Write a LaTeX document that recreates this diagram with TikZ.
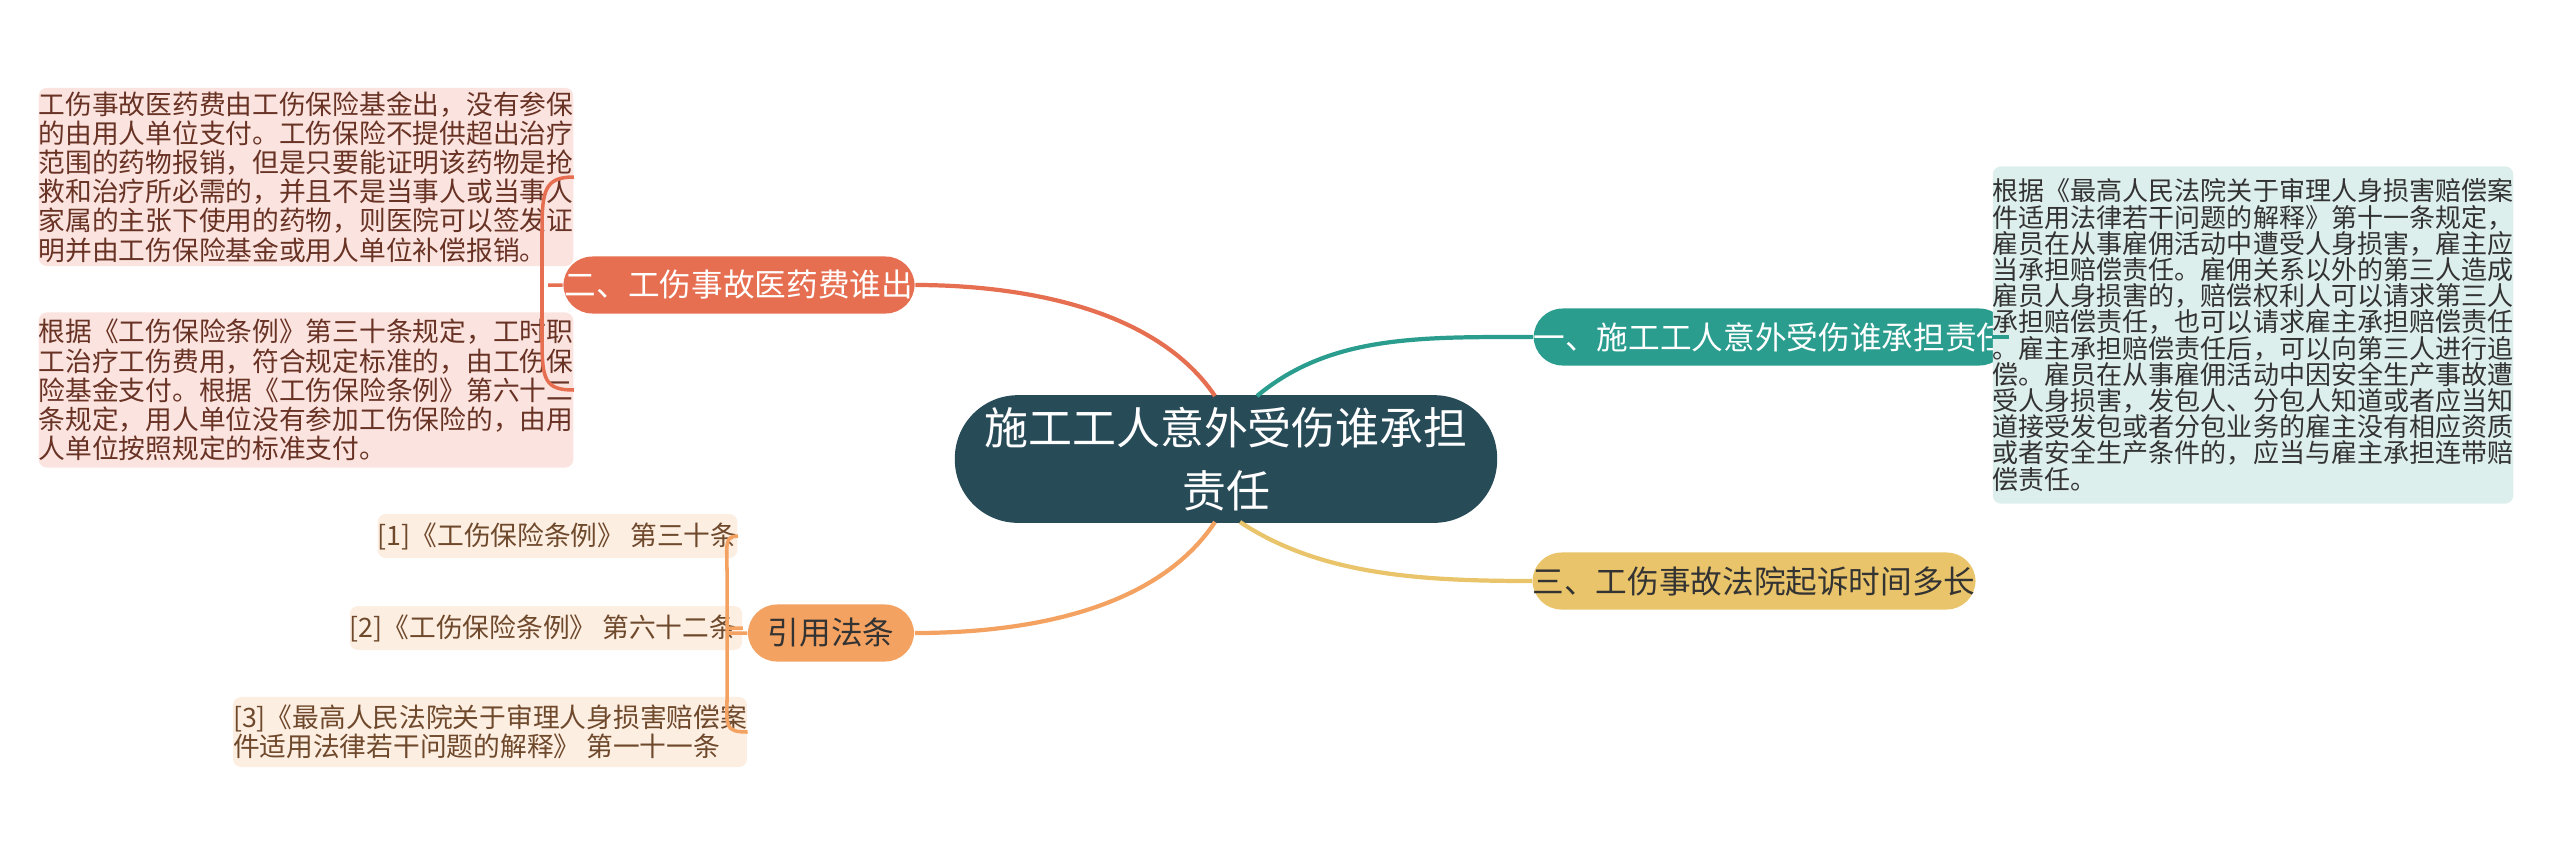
\documentclass[tikz,border=0pt]{standalone}
\usepackage{fontspec}
\setmainfont{Noto Sans CJK SC}
\definecolor{rootcol}{HTML}{284B58}
\definecolor{tealcol}{HTML}{2A9D8F}
\definecolor{yellowcol}{HTML}{E9C46A}
\definecolor{redcol}{HTML}{E76F51}
\definecolor{orangecol}{HTML}{F4A261}
\definecolor{redbox}{HTML}{FBE4DF}
\definecolor{tealbox}{HTML}{DDEFED}
\definecolor{orangebox}{HTML}{FDEEE2}
\tikzset{
  branch/.style = {
    rounded corners = 0.29cm,
    minimum height = 0.57cm,
    inner sep = 0,
    font = \fontsize{9pt}{10pt}\selectfont,
  },
  leaf/.style = {
    rounded corners = 0.08cm,
    inner sep = 0,
    align = left,
  },
}
\begin{document}
\begin{tikzpicture}[x=0.01cm, y=-0.01cm]
  \useasboundingbox (0,0) rectangle (2560,857);

  \node[
    fill = rootcol,
    rounded corners = 0.63cm,
    minimum width = 5.42cm,
    minimum height = 1.27cm,
    align = center,
    text = white,
    font = \fontsize{12.5pt}{18pt}\selectfont,
  ] (root) at (1226,459) {施工工人意外受伤谁承担\\责任};

  \node[branch, fill = tealcol, text = white, minimum width = 4.67cm]
    (harm) at (1771,337) {一、施工工人意外受伤谁承担责任};
  \node[branch, fill = yellowcol, text = black!80, minimum width = 4.33cm]
    (time) at (1754,581) {三、工伤事故法院起诉时间多长};
  \node[branch, fill = redcol, text = white, minimum width = 3.51cm]
    (cost) at (739,285) {二、工伤事故医药费谁出};
  \node[branch, fill = orangecol, text = black!80, minimum width = 1.66cm]
    (law) at (831,633) {引用法条};

  % connectors from the root
  \draw[tealcol, line width = 1.2pt] (1257,396) .. controls (1330,335) and (1420,337) .. (harm.west);
  \draw[yellowcol, line width = 1.2pt] (1240,522) .. controls (1320,575) and (1420,581) .. (time.west);
  \draw[redcol, line width = 1.2pt] (1215,396) .. controls (1150,300) and (1000,285) .. (cost.east);
  \draw[orangecol, line width = 1.2pt] (1215,522) .. controls (1150,620) and (1000,633) .. (law.east);

  % right leaf
  \node[
    leaf,
    fill = tealbox,
    text = black!80,
    minimum width = 4.33cm,
    minimum height = 3.37cm,
    font = \fontsize{7.4pt}{7.45pt}\selectfont,
  ] (harmtext) at (2253,335) {根据《最高人民法院关于审理人身损害赔偿案\\件适用法律若干问题的解释》第十一条规定，\\雇员在从事雇佣活动中遭受人身损害，雇主应\\当承担赔偿责任。雇佣关系以外的第三人造成\\雇员人身损害的，赔偿权利人可以请求第三人\\承担赔偿责任，也可以请求雇主承担赔偿责任\\。雇主承担赔偿责任后，可以向第三人进行追\\偿。雇员在从事雇佣活动中因安全生产事故遭\\受人身损害，发包人、分包人知道或者应当知\\道接受发包或者分包业务的雇主没有相应资质\\或者安全生产条件的，应当与雇主承担连带赔\\偿责任。};
  \draw[tealcol, line width = 1.2pt] (harm.east) -- (harmtext.west |- harm.east);

  % left leaves
  \node[
    leaf,
    fill = redbox,
    text = redcol!45!black,
    minimum width = 4.33cm,
    minimum height = 1.78cm,
    font = \fontsize{7.6pt}{8.3pt}\selectfont,
  ] (costa) at (306,177) {工伤事故医药费由工伤保险基金出，没有参保\\的由用人单位支付。工伤保险不提供超出治疗\\范围的药物报销，但是只要能证明该药物是抢\\救和治疗所必需的，并且不是当事人或当事人\\家属的主张下使用的药物，则医院可以签发证\\明并由工伤保险基金或用人单位补偿报销。};
  \node[
    leaf,
    fill = redbox,
    text = redcol!45!black,
    minimum width = 4.33cm,
    minimum height = 1.55cm,
    font = \fontsize{7.6pt}{8.3pt}\selectfont,
  ] (costb) at (306,390) {根据《工伤保险条例》第三十条规定，工时职\\工治疗工伤费用，符合规定标准的，由工伤保\\险基金支付。根据《工伤保险条例》第六十二\\条规定，用人单位没有参加工伤保险的，由用\\人单位按照规定的标准支付。};
  \draw[redcol, line width = 1pt] (cost.west) -- (548,285)
    (costa.east) .. controls (545,177) and (542,190) .. (542,230) -- (542,340)
    .. controls (542,380) and (545,390) .. (costb.east);

  \foreach \name/\y/\w/\txt in {
    refa/536/2.99/{[1]《工伤保险条例》 第三十条},
    refb/628/3.22/{[2]《工伤保险条例》 第六十二条}
  }{
    \node[
      leaf,
      fill = orangebox,
      text = orangecol!45!black,
      minimum width = \w cm,
      minimum height = 0.44cm,
      font = \fontsize{7.6pt}{8.3pt}\selectfont,
    ] (\name) at (707-\w*50,\y) {\txt};
  }
  \node[
    leaf,
    fill = orangebox,
    text = orangecol!45!black,
    minimum width = 4.33cm,
    minimum height = 0.70cm,
    font = \fontsize{7.6pt}{8.3pt}\selectfont,
  ] (refc) at (490,732) {[3]《最高人民法院关于审理人身损害赔偿案\\件适用法律若干问题的解释》 第一十一条};
  \draw[orangecol, line width = 1pt] (law.west) -- (727,633)
    (refa.east) .. controls (724,536) and (727,545) .. (727,570) -- (727,700)
    .. controls (727,725) and (724,732) .. (refc.east)
    (refb.east) -- (727,628);
\end{tikzpicture}
\end{document}
